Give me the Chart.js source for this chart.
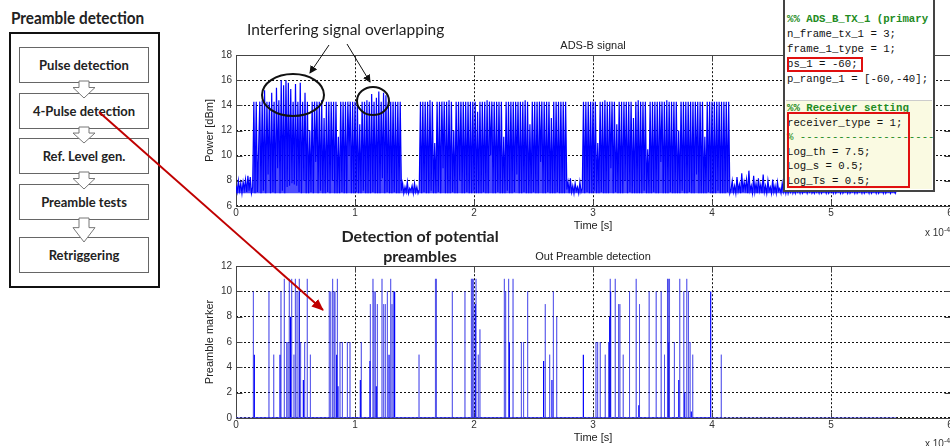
<!DOCTYPE html>
<html>
<head>
<meta charset="utf-8">
<script src="https://cdn.jsdelivr.net/npm/chart.js@4/dist/chart.umd.min.js"></script>
<style>
html, body { margin: 0; padding: 0; background: #fff; }
body { width: 950px; height: 446px; overflow: hidden; position: relative; font-family: Lato, "Open Sans", sans-serif; }
.abs { position: absolute; }
canvas { position: absolute; z-index: 1; }
#cTop { left: 180px; top: 36px; }
#cBot { left: 180px; top: 247px; }
#flowTitle { left: 11px; top: 7px; font-weight: bold; font-size: 17px; color: #222; transform: scaleX(0.9); transform-origin: left center; white-space: nowrap; }
#outer { left: 9px; top: 32px; width: 147px; height: 252px; border: 2px solid #111; }
.box { position: absolute; left: 19px; width: 128px; height: 34px; border: 1px solid #666; background: #fff;
  font-weight: bold; font-size: 13px; color: #222; text-align: center; line-height: 34px; z-index: 2; }
.note { font-size: 15.5px; color: #222; white-space: nowrap; z-index: 5; }
#det { left: 340px; top: 226px; width: 160px; font-weight: bold; font-size: 16px; line-height: 20px; text-align: center; white-space: normal; }
.exp { font-family: "Liberation Sans", Arial, sans-serif; font-size: 10px; color: #333; z-index: 5; white-space: nowrap; }
.exp sup { font-size: 7px; }
#code { left: 783px; top: -2px; width: 148px; height: 190px; border: 2px solid #444; background: #fff; z-index: 4; overflow: hidden;
  font-family: "Liberation Mono", "Courier New", monospace; font-size: 10.7px; color: #111; }
#code .blk1 { position: absolute; left: 2px; top: 12px; line-height: 14.9px; white-space: pre; }
#code .yel { position: absolute; left: 1px; top: 100px; width: 146px; height: 88px; background: #fafae2; border-top: 1px solid #ccc; }
#code .blk2 { position: absolute; left: 1px; top: 0px; line-height: 14.6px; white-space: pre; }
#code .g { color: #228b22; }
#code .gb { color: #228b22; font-weight: bold; }
.rbox { position: absolute; border: 2px solid #e01010; }
svg { position: absolute; left: 0; top: 0; z-index: 3; }
</style>
</head>
<body>

<div id="flowTitle" class="abs">Preamble detection</div>
<div id="outer" class="abs"></div>
<div class="box" style="top:47px">Pulse detection</div>
<div class="box" style="top:93px">4-Pulse detection</div>
<div class="box" style="top:138px">Ref. Level gen.</div>
<div class="box" style="top:184px">Preamble tests</div>
<div class="box" style="top:237px">Retriggering</div>

<canvas id="cTop" width="800" height="198"></canvas>
<canvas id="cBot" width="800" height="199"></canvas>

<div class="abs note" style="left:247px; top:20px;">Interfering signal overlapping</div>
<div id="det" class="abs note">Detection of potential preambles</div>
<div class="abs exp" style="left:925px; top:226px;">x 10<sup>-4</sup></div>
<div class="abs exp" style="left:925px; top:437px;">x 10<sup>-4</sup></div>

<div id="code" class="abs">
  <div class="blk1"><span class="gb">%% ADS_B_TX_1 (primary</span>
n_frame_tx_1 = 3;
frame_1_type = 1;
ps_1 = -60;
p_range_1 = [-60,-40];</div>
  <div class="yel">
    <div class="blk2"><span class="gb">%% Receiver setting</span>
receiver_type = 1;
<span class="g">% ----------------------</span>
Log_th = 7.5;
Log_s = 0.5;
Log_Ts = 0.5;</div>
  </div>
  <div class="rbox" style="left:2px; top:57px; width:72px; height:11px;"></div>
  <div class="rbox" style="left:2px; top:112px; width:119px; height:72px;"></div>
</div>

<svg id="ov" width="950" height="446">
  <defs>
    <marker id="ah" markerWidth="8" markerHeight="8" refX="7" refY="4" orient="auto" markerUnits="userSpaceOnUse">
      <path d="M0,0 L8,4 L0,8 z" fill="#111"/>
    </marker>
    <marker id="ahr" markerWidth="12" markerHeight="10" refX="11" refY="5" orient="auto" markerUnits="userSpaceOnUse">
      <path d="M0,0 L12,5 L0,10 z" fill="#c00000"/>
    </marker>
  </defs>
  <g id="flowArrows" fill="#fff" stroke="#777" stroke-width="1"></g>
  <line x1="329" y1="45" x2="310" y2="73" stroke="#111" stroke-width="1" marker-end="url(#ah)"/>
  <line x1="347" y1="44" x2="370" y2="82" stroke="#111" stroke-width="1" marker-end="url(#ah)"/>
  <ellipse cx="293" cy="95" rx="31" ry="21" fill="none" stroke="#111" stroke-width="2"/>
  <ellipse cx="373" cy="101" rx="16" ry="14" fill="none" stroke="#111" stroke-width="2"/>
  <line x1="99" y1="112" x2="323" y2="310" stroke="#c00000" stroke-width="2" marker-end="url(#ahr)"/>
</svg>

<script>
// ADS-B signal, power in dBm, one sample every 0.01 (x 1e-4 s)
const dt = 0.01;

const noiseStartT = 0.00;
const noiseStart = [7.6,7.1,8.0,7.2,7.8,7.0,7.9,7.3,8.1,7.1,
  8.4,7.2,8.3,7.0,7.5];

const burst1T = 0.15;
const burst1 = [14.3,7.0,14.3,7.1,10.5,
  14.3,7.0,14.4,7.2,15.2,7.0,14.3,8.5,14.3,7.0,
  15.0,7.1,14.3,7.0,15.4,9.0,14.4,7.0,16.0,7.2,
  15.6,7.0,16.0,7.5,15.8,7.6,15.3,7.8,14.3,7.7,
  15.7,7.6,14.3,7.1,15.8,7.0,14.3,8.0,15.0,7.0,
  14.3,7.0,12.0,7.1,14.3,7.0,14.3,9.5,14.3,7.0,
  14.3,7.2,14.4,7.0,13.0,7.0,14.3,7.1,14.3,7.0,
  14.3,8.0,14.3,7.0,14.3,7.0,11.5,7.0,14.3,7.1,
  14.3,7.0,14.3,7.0,14.3,10.0,14.3,7.0,14.3,7.0,
  14.3,7.1,14.3,7.0,12.5,7.0,14.3,7.2,14.3,7.0,
  14.4,7.0,14.3,7.0,14.9,7.1,14.3,7.0,14.6,7.0,
  15.1,7.0,14.3,8.2,15.0,7.0,14.8,7.1,14.3,7.0,
  14.3,7.0,14.3,7.1,14.3,7.0,14.3,7.0,14.3];

const gap1T = 1.39;
const gap1 = [7.2,7.8,7.0,7.5,7.1,7.9,7.0,7.4,7.2,7.6,7.0,7.8,7.1,7.5,7.0,7.3];

const burst2T = 1.55;
const burst2 = [14.3,7.0,14.3,7.1,14.3,
  7.0,14.3,7.0,14.4,7.2,14.3,7.0,11.0,7.0,14.3,
  7.1,14.3,7.0,14.3,9.0,14.3,7.0,14.3,7.0,14.4,
  7.0,14.3,7.1,12.0,7.0,14.3,7.0,14.3,8.0,14.3,
  7.0,14.3,7.0,14.3,7.1,14.3,7.0,14.3,7.0,14.3,
  7.2,14.3,7.0,13.5,7.0,14.3,7.0,14.3,7.1,14.3,
  7.0,14.4,7.0,14.3,10.0,14.3,7.0,14.3,7.0,14.3,
  7.1,14.3,7.0,14.3,7.0,11.5,7.0,14.3,7.2,14.3,
  7.0,14.3,7.0,14.3,7.1,14.3,8.5,14.3,7.0,14.3,
  7.0,14.3,7.1,14.4,7.0,14.3,7.0,12.5,7.0,14.3,
  7.1,14.3,7.0,14.3,7.0,14.3,9.5,14.3,7.0,14.3,
  7.0,14.3,7.1,14.3,7.0,13.0,7.0,14.3,7.0,14.3,
  7.1,14.3,7.0,14.3,7.0,14.3,7.0,14.3];

const gap2T = 2.78;
const gap2 = [7.3,7.9,7.0,8.2,7.1,7.6,7.0,7.8,7.2,7.5,7.0,7.9,7.1,7.4];

const burst3T = 2.92;
const burst3 = [14.3,7.0,14.3,7.1,14.3,7.0,14.3,7.0,
  14.3,7.2,14.3,7.0,11.0,7.0,14.3,7.1,14.3,7.0,
  14.4,7.0,14.3,7.0,14.3,9.0,14.3,7.0,14.3,7.1,
  12.5,7.0,14.3,7.0,14.3,7.0,14.3,8.0,14.3,7.0,
  14.3,7.1,14.3,7.0,13.0,7.0,14.3,7.0,14.4,7.0,
  14.3,7.0,14.3,7.2,14.3,7.0,10.5,7.0,14.3,7.0,
  14.3,7.1,14.3,7.0,14.3,7.0,14.3,9.5,14.3,7.0,
  14.3,7.0,14.4,7.0,14.3,7.1,14.3,7.0,14.3,7.0,
  14.3,7.0,12.0,7.0,14.3,7.2,14.3,7.0,14.3,7.0,
  14.3,7.1,14.3,7.0,14.3,7.0,14.3,8.5,14.3,7.0,
  14.3,7.0,14.3,7.0,11.5,7.0,14.3,7.1,14.3,7.0,
  14.3,7.0,14.3,7.0,14.3,7.2,14.3,7.0,14.3,7.0,
  14.3,7.0,14.3,7.1,14.3,7.0];

const noiseEndT = 4.16;
const noiseEnd = [7.3,8.0,7.1,7.6,
  7.0,8.3,7.2,7.7,7.0,8.6,7.1,7.9,7.3,8.1,
  7.0,8.8,7.2,7.6,7.0,8.4,7.1,7.8,7.0,8.2,
  7.2,7.7,7.0,8.5,7.1,7.6,7.0,8.0,7.2,7.5,
  7.0,8.1,7.1,7.6,7.0,7.9,7.2,7.4,7.0,7.8,
  7.1,7.5,7.0,7.7,7.0,7.4,7.1,7.6,7.0,7.3,
  7.0,7.5,7.1,7.3,7.0,7.4,7.0,7.2,7.1,7.4,
  7.0,7.3,7.1,7.4,7.0,7.2,7.0,7.5,7.1,7.3,
  7.0,7.4,7.0,7.2,7.1,7.3,7.0,7.4,7.0,7.2,
  7.1,7.3,7.0,7.4,7.0,7.2,7.1,7.3,7.0,7.4,
  7.0,7.2,7.1,7.3,7.0,7.4,7.0,7.2,7.1,7.3,
  7.0,7.4,7.0,7.2,7.1,7.3,7.0,7.4,7.0,7.2,
  7.1,7.3,7.0,7.4,7.0,7.2,7.1,7.3,7.0,7.4,
  7.0,7.2,7.1,7.3,7.0,7.4,7.0,7.2,7.1,7.3,
  7.0,7.3,7.1,7.2,7.0,7.3];

// preamble markers: time (x 1e-4 s) and marker level
const spikeT = [0.146,0.277,0.317,0.378,0.406,0.426,0.437,0.448,0.468,0.487,0.499,0.513,0.532,0.543,0.577,0.599,0.625,
  0.784,0.796,0.812,0.824,0.832,0.852,0.874,0.894,0.936,0.958,1.053,1.129,1.151,1.160,1.171,1.188,1.227,1.241,1.255,
  1.272,1.300,1.311,1.322,1.538,1.676,1.684,1.818,1.924,1.978,1.986,1.994,2.017,2.036,2.050,2.255,2.266,2.291,2.328,
  2.398,2.412,2.420,2.451,2.599,2.636,2.667,2.695,3.025,3.039,3.061,3.103,3.131,3.145,3.187,3.215,3.226,3.254,3.307,
  3.363,3.391,3.472,3.531,3.573,3.601,3.626,3.633,3.640,3.645,3.684,3.729,3.763,3.788,3.802,3.816,3.838,4.078];
const spikeV = [10,10,5,10,11,6,6,11,11,5,11,10,11,6,6,11,5,
  10,10,11,10,10,11,6,6,6,6,6,9,11,10,10,9,11,9,9,
  10,11,9,10,5,11,11,10,10,11,11,11,11,5,7,11,10,11,11,
  6,6,5,10,9,5,10,8,6,6,6,5,6,11,11,9,9,5,10,
  11,9,10,10,10,5,11,11,11,11,6,11,10,11,10,6,5,5];
const darkT = [0.154,0.370,0.459,0.532,0.566,0.846,0.857,1.045,1.126,1.179,1.286,1.333,2.011,2.297,2.585,2.655,
  2.919,3.140,3.148,3.385,3.636,3.721,3.771,3.826,3.989];
const darkV = [5,5,8,10,3,5,2.5,3,4.5,2.5,5,10,9,6,4.5,3,
  5,8,10,1,6,3,2,0.5,10];
const baseEnd = 5.55;

const xTicks = [0,1,2,3,4,5,6];

function samples(t0, vals) {
  return vals.map((v, i) => ({ x: +(t0 + i * dt).toFixed(3), y: v }));
}
function spikes(ts, vs) {
  const out = [];
  ts.forEach((t, i) => { out.push({ x: t, y: 0 }, { x: t, y: vs[i] }, { x: t, y: 0 }); });
  return out;
}

const power = [].concat(
  samples(noiseStartT, noiseStart), samples(burst1T, burst1), samples(gap1T, gap1),
  samples(burst2T, burst2), samples(gap2T, gap2), samples(burst3T, burst3), samples(noiseEndT, noiseEnd));

const tickFont = { family: "'Liberation Sans', Arial, sans-serif", size: 10 };
const titleFont = { family: "'Liberation Sans', Arial, sans-serif", size: 11, weight: 'normal' };

const frame = {
  id: 'frame',
  beforeDatasetsDraw(chart) {
    const { ctx, chartArea: a, scales: { x, y } } = chart;
    const l = Math.round(a.left) + 0.5, r = Math.round(a.right) + 0.5;
    const t = Math.round(a.top) + 0.5, b = Math.round(a.bottom) + 0.5;
    ctx.save();
    ctx.strokeStyle = '#444';
    ctx.lineWidth = 1;
    ctx.strokeRect(l, t, r - l, b - t);
    ctx.beginPath();
    x.ticks.forEach(tk => {
      const px = Math.round(x.getPixelForValue(tk.value)) + 0.5;
      ctx.moveTo(px, b); ctx.lineTo(px, b - 6);
      ctx.moveTo(px, t); ctx.lineTo(px, t + 6);
    });
    y.ticks.forEach(tk => {
      const py = Math.round(y.getPixelForValue(tk.value)) + 0.5;
      ctx.moveTo(l, py); ctx.lineTo(l + 6, py);
      ctx.moveTo(r, py); ctx.lineTo(r - 6, py);
    });
    ctx.stroke();
    ctx.restore();
  }
};

function makeOptions(title, yTitle, yMin, yMax) {
  return {
    responsive: false,
    animation: false,
    devicePixelRatio: 1,
    layout: { padding: { right: 30, top: 0, left: 0, bottom: 0 } },
    plugins: {
      legend: { display: false },
      tooltip: { enabled: false },
      title: { display: true, text: title, font: titleFont, color: '#222', padding: { top: 3, bottom: 3 }, fullSize: false }
    },
    elements: { point: { radius: 0 }, line: { tension: 0 } },
    scales: {
      x: {
        type: 'linear', min: 0, max: 6,
        afterBuildTicks: s => { s.ticks = xTicks.map(v => ({ value: v })); },
        ticks: { font: tickFont, color: '#333', padding: 1, maxRotation: 0 },
        grid: { color: '#111', lineWidth: 1, drawTicks: false },
        border: { display: false, dash: [2, 2] },
        title: { display: true, text: 'Time [s]', font: titleFont, color: '#222', padding: { top: 0, bottom: 1 } }
      },
      y: {
        min: yMin, max: yMax,
        ticks: { stepSize: 2, font: tickFont, color: '#333', padding: 4 },
        grid: { color: '#111', lineWidth: 1, drawTicks: false },
        border: { display: false, dash: [2, 2] },
        afterFit: s => { s.width = 56; },
        title: { display: true, text: yTitle, font: titleFont, color: '#222', padding: { top: 23, bottom: 0 } }
      }
    }
  };
}

new Chart(document.getElementById('cTop'), {
  type: 'line',
  data: { datasets: [{ data: power, borderColor: '#0000ff', borderWidth: 1.2,
    fill: { value: 7 }, backgroundColor: 'rgba(0,0,255,0.7)' }] },
  options: makeOptions('ADS-B signal', 'Power [dBm]', 6, 18),
  plugins: [frame]
});

new Chart(document.getElementById('cBot'), {
  type: 'line',
  data: {
    datasets: [
      { data: [{ x: 0, y: 0 }, { x: baseEnd, y: 0 }], borderColor: 'rgba(70,70,240,0.7)', borderWidth: 1.5 },
      { data: spikes(spikeT, spikeV), borderColor: 'rgba(40,40,230,0.55)', borderWidth: 1 },
      { data: spikes(darkT, darkV), borderColor: '#0000ff', borderWidth: 1.2 }
    ]
  },
  options: makeOptions('Out Preamble detection', 'Preamble marker', 0, 12),
  plugins: [frame]
});

// hollow block arrows between flowchart boxes
const boxTops = [47, 93, 138, 184, 237];
const boxH = 36;
const g = document.getElementById('flowArrows');
for (let i = 0; i < boxTops.length - 1; i++) {
  const b = boxTops[i] + boxH, t = boxTops[i + 1];
  const mid = b + (t - b) * 0.45, tip = t + 5, cx = 84;
  const p = document.createElementNS('http://www.w3.org/2000/svg', 'polygon');
  p.setAttribute('points', [
    [cx - 5, b - 2], [cx + 5, b - 2], [cx + 5, mid], [cx + 11, mid], [cx, tip], [cx - 11, mid], [cx - 5, mid]
  ].map(q => q.join(',')).join(' '));
  g.appendChild(p);
}
</script>
</body>
</html>
